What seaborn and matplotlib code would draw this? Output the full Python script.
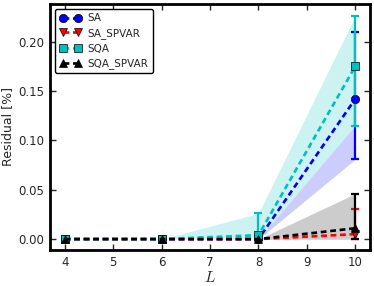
"""Residual vs system size L for SA / SQA variants."""
import matplotlib
matplotlib.use('Agg')
import numpy as np
import pandas as pd
import seaborn as sns
import matplotlib.pyplot as plt
from matplotlib.colors import to_rgb

# Data.
L = [4, 6, 8, 10]
sa = [0.0, 0.0, 0.0, 0.142]
sa_lo = [0.0, 0.0, 0.0, 0.081]
sa_hi = [0.0, 0.0, 0.0, 0.210]
sa_spvar = [0.0, 0.0, 0.0, 0.005]
sa_spvar_lo = [0.0, 0.0, 0.0, 0.0]
sa_spvar_hi = [0.0, 0.0, 0.0, 0.030]
sqa = [0.0, 0.0, 0.004, 0.175]
sqa_lo = [0.0, 0.0, 0.0, 0.115]
sqa_hi = [0.0, 0.0, 0.026, 0.226]
sqa_spvar = [0.0, 0.0, 0.0, 0.011]
sqa_spvar_lo = [0.0, 0.0, 0.0, 0.0]
sqa_spvar_hi = [0.0, 0.0, 0.0, 0.046]

series = [
    ('SA', sa, sa_lo, sa_hi, '#0000ff', 'o'),
    ('SA_SPVAR', sa_spvar, sa_spvar_lo, sa_spvar_hi, '#ff0000', 'v'),
    ('SQA', sqa, sqa_lo, sqa_hi, '#00bfbf', 's'),
    ('SQA_SPVAR', sqa_spvar, sqa_spvar_lo, sqa_spvar_hi, '#000000', '^'),
]


def light(c, a=0.2):
    """Opaque version of colour c at alpha a over white."""
    r = np.array(to_rgb(c))
    return tuple(1 - a + a * r)


sns.set_style('ticks')
plt.rcParams['font.family'] = ['DejaVu Sans']
plt.rcParams['mathtext.fontset'] = 'cm'

fig = plt.figure(figsize=(3.74, 2.86), dpi=100)
ax = fig.add_axes([0.134, 0.126, 0.855, 0.86])

# Bands first.
for i, (name, y, lo, hi, c, m) in enumerate(series):
    ax.fill_between(L, lo, hi, color=light(c, 0.2), lw=0, zorder=1 + i * 0.1)

# Error bars.
for i, (name, y, lo, hi, c, m) in enumerate(series):
    y = np.array(y)
    err = [y - np.array(lo), np.array(hi) - y]
    ax.errorbar(L, y, yerr=err, fmt='none', ecolor=c, elinewidth=1.6,
                capsize=3, capthick=1.6, zorder=2 + i * 0.1)

# Lines with markers.
for i, (name, y, lo, hi, c, m) in enumerate(series):
    df = pd.DataFrame({'L': L, 'res': y})
    sns.lineplot(data=df, x='L', y='res', ax=ax, color=c, marker=m,
                 markersize=6, markeredgecolor='k', markeredgewidth=0.5,
                 linestyle=(0, (2.2, 1.4)), lw=1.9, label=name,
                 zorder=3 + i * 0.1)

ax.set_xlim(3.7, 10.3)
ax.set_ylim(-0.011, 0.238)
ax.set_xticks(range(4, 11))
ax.set_yticks([0.0, 0.05, 0.10, 0.15, 0.20])
ax.set_yticklabels(['0.00', '0.05', '0.10', '0.15', '0.20'])
ax.tick_params(direction='in', length=4, width=1, top=True, right=True,
               labelsize=8.5, pad=4)
for sp in ax.spines.values():
    sp.set_linewidth(2)
    sp.set_color('black')
ax.set_xlabel('$L$', fontsize=11, labelpad=1)
ax.set_ylabel('Residual [%]', fontsize=9, labelpad=3)

leg = ax.legend(loc='upper left', numpoints=2, fontsize=7.5, frameon=True,
                fancybox=True, handlelength=2.1, borderpad=0.4,
                labelspacing=0.45, handletextpad=0.6)
leg.get_frame().set_edgecolor('black')
leg.get_frame().set_linewidth(1)
leg.get_frame().set_alpha(1)

fig.savefig('out.png', dpi=100)
